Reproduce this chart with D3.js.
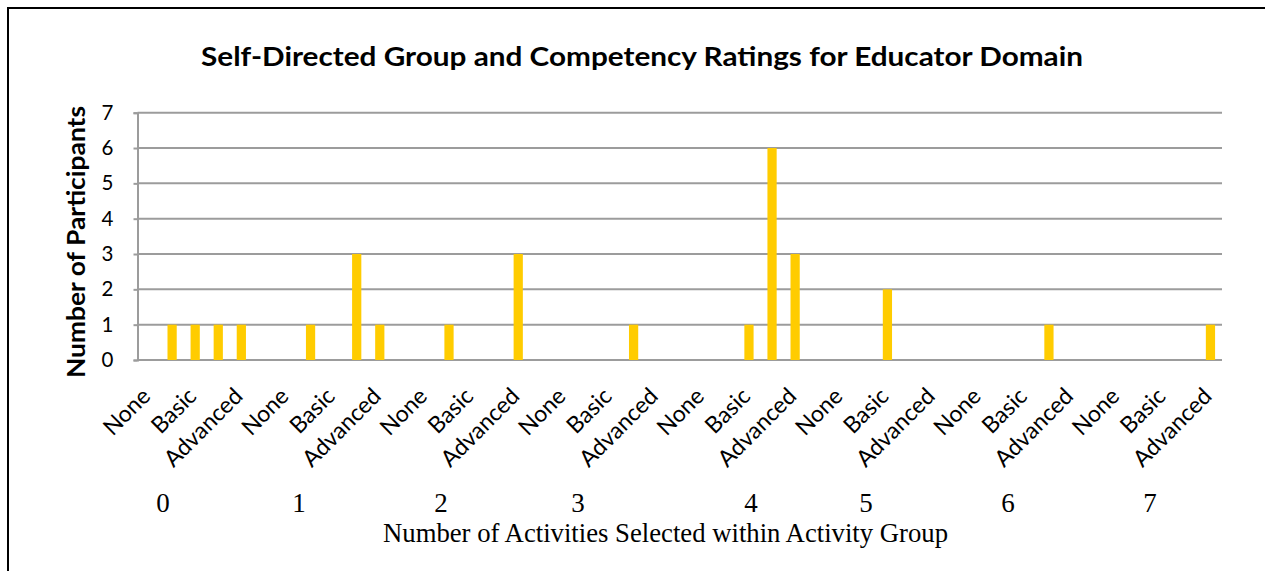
<!DOCTYPE html>
<html>
<head>
<meta charset="utf-8">
<script src="https://cdn.jsdelivr.net/npm/d3@7"></script>
<style>
  html, body { margin: 0; padding: 0; background: #fff; }
  svg { display: block; }
</style>
</head>
<body>
<svg id="chart" width="1265" height="571"></svg>
<script>
// ---------------- data ----------------
const title = "Self-Directed Group and Competency Ratings for Educator Domain";
const yTitle = "Number of Participants";
const xTitle = "Number of Activities Selected within Activity Group";
const groups = ["0", "1", "2", "3", "4", "5", "6", "7"];
const ratings = ["None", "Basic", "Advanced"];
// 47 category slots on the axis; only every second one carries a visible label
const categories = d3.range(47);
const tickLabels = groups.flatMap(() => ratings); // shown on slots 0,2,4,...,46
const values = [0, 1, 1, 1, 1, 0, 0, 1, 0, 3, 1, 0, 0, 1, 0, 0, 3, 0, 0, 0, 0, 1, 0, 0,
                0, 0, 1, 6, 3, 0, 0, 0, 2, 0, 0, 0, 0, 0, 0, 1, 0, 0, 0, 0, 0, 0, 1];
const yTicks = [0, 1, 2, 3, 4, 5, 6, 7];

// ---------------- layout ----------------
const svg = d3.select("#chart");
const plot = { left: 137.5, right: 1222, top: 112.7, bottom: 360 };
// the group numbers are typed text placed under the chart
const groupLabelX = [163, 299, 441, 578, 751, 866, 1008, 1150];
const sans = "Lato, 'Open Sans', sans-serif";
const serif = "'Liberation Serif', 'Times New Roman', serif";

// frame
svg.append("rect").attr("x", 8).attr("y", 8).attr("width", 1300).attr("height", 620)
  .attr("fill", "none").attr("stroke", "#000").attr("stroke-width", 2);

const x = d3.scaleBand().domain(categories).range([plot.left, plot.right])
  .paddingInner(0.6).paddingOuter(0.3);
const y = d3.scaleLinear().domain([0, 7]).range([plot.bottom, plot.top]);

// gridlines
svg.append("g").selectAll("line").data(yTicks).join("line")
  .attr("x1", plot.left).attr("x2", plot.right)
  .attr("y1", d => y(d)).attr("y2", d => y(d))
  .attr("stroke", "#9c9c9c").attr("stroke-width", 2);

// y axis
const yAxis = svg.append("g").attr("transform", `translate(${plot.left},0)`)
  .call(d3.axisLeft(y).tickValues(yTicks).tickSize(4).tickPadding(20).tickFormat(d3.format("d")));
yAxis.select(".domain").attr("stroke", "#9c9c9c").attr("stroke-width", 2);
yAxis.selectAll(".tick line").attr("stroke", "#9c9c9c").attr("stroke-width", 2);
yAxis.selectAll(".tick text").attr("font-family", sans)
  .attr("font-size", 20.5).attr("fill", "#000");

// bars
svg.append("g").selectAll("rect").data(values.map((v, i) => ({ i, v })).filter(d => d.v > 0)).join("rect")
  .attr("x", d => x(d.i)).attr("width", x.bandwidth())
  .attr("y", d => y(d.v)).attr("height", d => y(0) - y(d.v))
  .attr("fill", "#FFCC00");

// x category labels (rotated)
const labelled = categories.filter(c => c % 2 === 0);
svg.append("g").selectAll("text").data(labelled).join("text")
  .attr("transform", d => `translate(${x(d) + x.bandwidth() / 2 - 3},392) rotate(-45)`)
  .attr("text-anchor", "end").attr("dy", "0.35em")
  .attr("font-family", sans).attr("font-size", 23).attr("fill", "#000")
  .text(d => tickLabels[d / 2]);

// group numbers
svg.append("g").selectAll("text").data(groups).join("text")
  .attr("x", (d, i) => groupLabelX[i]).attr("y", 512)
  .attr("text-anchor", "middle")
  .attr("font-family", serif).attr("font-size", 27)
  .attr("fill", "#000").text(d => d);

// x title
svg.append("text").attr("x", 665.5).attr("y", 542).attr("text-anchor", "middle")
  .attr("font-family", serif).attr("font-size", 27)
  .attr("textLength", 565).attr("lengthAdjust", "spacingAndGlyphs")
  .attr("fill", "#000").text(xTitle);

// chart title
svg.append("text").attr("x", 642).attr("y", 66).attr("text-anchor", "middle")
  .attr("font-family", sans).attr("font-weight", "bold").attr("font-size", 26)
  .attr("textLength", 882).attr("lengthAdjust", "spacingAndGlyphs")
  .attr("fill", "#000").text(title);

// y title
svg.append("text").attr("transform", `translate(85,${242}) rotate(-90)`)
  .attr("text-anchor", "middle")
  .attr("font-family", sans).attr("font-weight", "bold").attr("font-size", 24)
  .attr("textLength", 272).attr("lengthAdjust", "spacingAndGlyphs")
  .attr("fill", "#000").text(yTitle);
</script>
</body>
</html>
